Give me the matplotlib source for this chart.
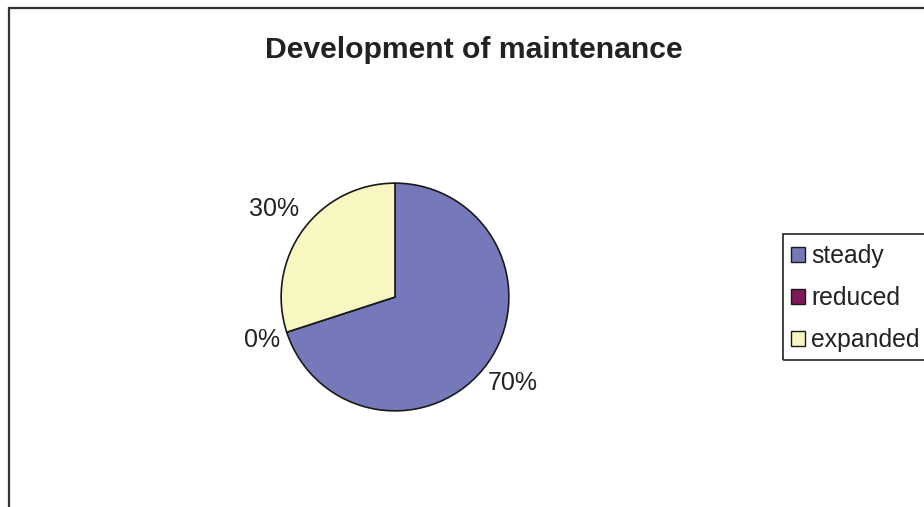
import matplotlib
matplotlib.use("Agg")
import matplotlib.pyplot as plt
from matplotlib.patches import Rectangle
import numpy as np

plt.rcParams['font.family'] = ['Liberation Sans', 'DejaVu Sans']

title = "Development of maintenance"
categories = ["steady", "reduced", "expanded"]
values = [70, 0, 30]
labels = ["70%", "0%", "30%"]
colors = ["#7679B9", "#7B1A56", "#F8F7C2"]
label_dist = [1.28, 1.23, 1.31]

W, H = 924, 507
fig = plt.figure(figsize=(W / 100, H / 100), dpi=100)
fig.patch.set_facecolor("white")

def px(x0, y0, x1, y1):
    return [x0 / W, 1 - y1 / H, (x1 - x0) / W, (y1 - y0) / H]

# outer chart border (extends beyond right/bottom edges)
fig.patches.append(Rectangle((8.5 / W, -0.2), 1.5, 1.2 - 7.5 / H,
                             transform=fig.transFigure, fill=False,
                             edgecolor="#333333", linewidth=1.6))

fig.text(474 / W, 1 - 58 / H, title, ha="center", va="baseline",
         fontsize=21.7, fontweight="bold", color="#222222")

ax = fig.add_axes(px(280, 182, 510, 412))
wedges, _ = ax.pie(values, colors=colors, startangle=90, counterclock=False,
                   wedgeprops=dict(edgecolor="#1a1a1a", linewidth=1.2))
ax.set_xlim(-1.01, 1.01)
ax.set_ylim(-1.01, 1.01)
ax.set_aspect("equal")
ax.axis("off")

for w, lab, d in zip(wedges, labels, label_dist):
    ang = np.deg2rad((w.theta1 + w.theta2) / 2)
    ax.text(d * np.cos(ang), d * np.sin(ang), lab, ha="center", va="center",
            fontsize=18, color="#222222", clip_on=False)

# legend box
fig.patches.append(Rectangle((783 / W, 1 - 360 / H), 0.5, (360 - 234) / H,
                             transform=fig.transFigure, fill=False,
                             edgecolor="#222222", linewidth=1.2))
leg = fig.legend(wedges, categories, loc="center left",
                 bbox_to_anchor=(791 / W, 1 - 298 / H), frameon=False,
                 fontsize=17.8, handlelength=0.56, handleheight=0.56,
                 handletextpad=0.25, labelspacing=0.72, borderpad=0,
                 borderaxespad=0)
for t in leg.get_texts():
    t.set_color("#222222")
for h in leg.legend_handles:
    h.set_edgecolor("#1a1a1a")
    h.set_linewidth(1.0)

fig.savefig("out.png", dpi=100)
